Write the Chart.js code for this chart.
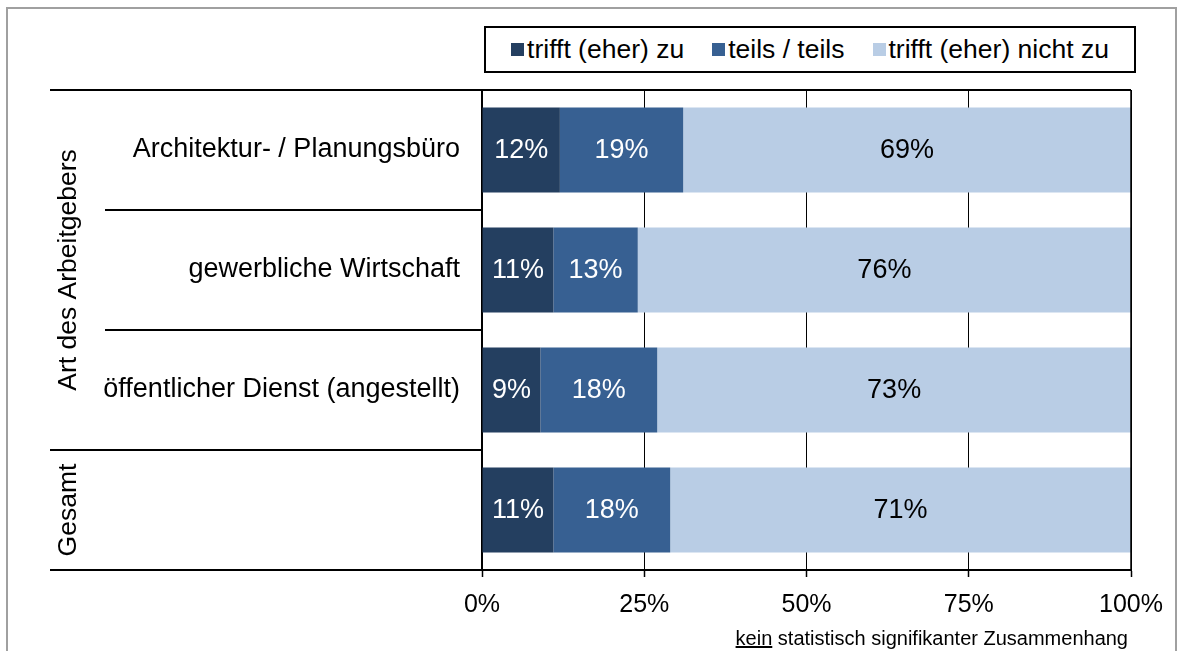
<!DOCTYPE html>
<html lang="de">
<head>
<meta charset="utf-8">
<title>Art des Arbeitgebers</title>
<script src="https://cdn.jsdelivr.net/npm/chart.js@4.4.1/dist/chart.umd.min.js"></script>
<style>
  html, body { margin: 0; padding: 0; background: #fff; }
  body { width: 1182px; height: 651px; position: relative; overflow: hidden; font-family: Arial, "Liberation Sans", sans-serif; }
  #frame { position: absolute; left: 6px; top: 7px; width: 1171px; height: 660px; border: 2px solid #a0a0a0; box-sizing: border-box; }
  #chart { position: absolute; left: 0; top: 0; }
  #legend { position: absolute; left: 484px; top: 26px; width: 652px; height: 47px; border: 2px solid #000; box-sizing: border-box;
            display: flex; align-items: center; justify-content: center; gap: 28px; font-size: 26.5px; color: #000; background: #fff; }
  #legend .item { display: flex; align-items: center; white-space: nowrap; }
  #legend .sw { width: 13px; height: 13px; margin-right: 3px; }
  #note { position: absolute; right: 54px; top: 627px; font-size: 20px; color: #000; white-space: nowrap; }
</style>
</head>
<body>
<div id="frame"></div>
<canvas id="chart" width="1182" height="651"></canvas>
<div id="legend"></div>
<div id="note"><u>kein</u> statistisch signifikanter Zusammenhang</div>
<script>
/* ── Daten ── */
const categories = ['Architektur- / Planungsbüro', 'gewerbliche Wirtschaft', 'öffentlicher Dienst (angestellt)', ''];
const seriesNames = ['trifft (eher) zu', 'teils / teils', 'trifft (eher) nicht zu'];
const zuValues = [12, 11, 9, 11];
const teilsValues = [19, 13, 18, 18];
const nichtZuValues = [69, 76, 73, 71];
const xTicks = [0, 25, 50, 75, 100];
const groupLabels = ['Art des Arbeitgebers', 'Gesamt'];
const groupSizes = [3, 1];

const COLORS = ['#243f60', '#376092', '#b9cde5'];
const LABEL_COLORS = ['#fff', '#fff', '#000'];
const FONT = 'Arial, "Liberation Sans", sans-serif';

// Legende als HTML-Box
const lg = document.getElementById('legend');
seriesNames.forEach((n, i) => {
  lg.innerHTML += '<span class="item"><span class="sw" style="background:' + COLORS[i] + '"></span>' + n + '</span>';
});

/* Prozentwerte mittig in die Balken schreiben */
const barLabels = {
  id: 'barLabels',
  afterDatasetsDraw(chart) {
    const ctx = chart.ctx;
    ctx.save();
    ctx.font = '27px ' + FONT;
    ctx.textAlign = 'center';
    ctx.textBaseline = 'middle';
    chart.data.datasets.forEach((ds, di) => {
      const meta = chart.getDatasetMeta(di);
      ctx.fillStyle = LABEL_COLORS[di];
      meta.data.forEach((bar, i) => {
        const p = bar.getProps(['x', 'y', 'base'], true);
        ctx.fillText(ds.data[i] + '%', (p.x + p.base) / 2, p.y + 1);
      });
    });
    ctx.restore();
  }
};

/* Trennlinien + gedrehte Gruppentitel links, Rahmen oben/rechts */
const groupFrame = {
  id: 'groupFrame',
  afterDraw(chart) {
    const ctx = chart.ctx;
    const a = chart.chartArea;
    const y = chart.scales.y;
    const band = y.getPixelForValue(1) - y.getPixelForValue(0);
    const outerX = 50, innerX = 105, groupX = 69;
    ctx.save();
    ctx.strokeStyle = '#000';
    ctx.lineWidth = 2;
    ctx.beginPath();
    ctx.moveTo(outerX, a.top); ctx.lineTo(a.right, a.top);
    ctx.stroke();
    ctx.beginPath();
    ctx.lineWidth = 1.5;
    ctx.moveTo(a.right, a.top); ctx.lineTo(a.right, a.bottom);
    ctx.stroke();

    let idx = 0;
    const ends = [];
    groupSizes.forEach(n => { idx += n; ends.push(idx - 1); });
    ctx.lineWidth = 2;
    categories.forEach((c, i) => {
      const yy = y.getPixelForValue(i) + band / 2;
      const x0 = ends.includes(i) ? outerX : innerX;
      ctx.beginPath();
      ctx.moveTo(x0, yy); ctx.lineTo(a.left, yy);
      ctx.stroke();
    });

    ctx.font = '26.5px ' + FONT;
    ctx.fillStyle = '#000';
    ctx.textAlign = 'center';
    ctx.textBaseline = 'middle';
    let start = 0;
    groupLabels.forEach((g, gi) => {
      const n = groupSizes[gi];
      const cy = (y.getPixelForValue(start) + y.getPixelForValue(start + n - 1)) / 2;
      ctx.save();
      ctx.translate(groupX, cy);
      ctx.rotate(-Math.PI / 2);
      ctx.fillText(g, 0, 0);
      ctx.restore();
      start += n;
    });
    ctx.restore();
  }
};

const mk = (i, data) => ({
  label: seriesNames[i], data, backgroundColor: COLORS[i],
  barPercentage: 0.71, categoryPercentage: 1
});

new Chart(document.getElementById('chart'), {
  type: 'bar',
  data: {
    labels: categories,
    datasets: [mk(0, zuValues), mk(1, teilsValues), mk(2, nichtZuValues)]
  },
  options: {
    indexAxis: 'y',
    responsive: false,
    animation: false,
    devicePixelRatio: 1,
    layout: { padding: { left: 0, top: 90, right: 51, bottom: 11 } },
    plugins: { legend: { display: false }, tooltip: { enabled: false } },
    scales: {
      x: {
        stacked: true, min: 0, max: 100,
        afterBuildTicks: s => { s.ticks = xTicks.map(v => ({ value: v })); },
        afterFit: s => { s.height = 70; },
        grid: { color: '#000', lineWidth: 1, borderDash: [2, 3], tickLength: 7, tickColor: '#000', tickWidth: 1.5, tickBorderDash: [] },
        border: { color: '#000', width: 2 },
        ticks: { color: '#000', font: { family: FONT, size: 25 }, padding: 13, callback: v => v + '%' }
      },
      y: {
        stacked: true,
        afterFit: s => { s.width = 482; },
        grid: { display: false },
        border: { color: '#000', width: 2 },
        ticks: { color: '#000', font: { family: FONT, size: 27 }, padding: 14 }
      }
    }
  },
  plugins: [barLabels, groupFrame]
});
</script>
</body>
</html>
